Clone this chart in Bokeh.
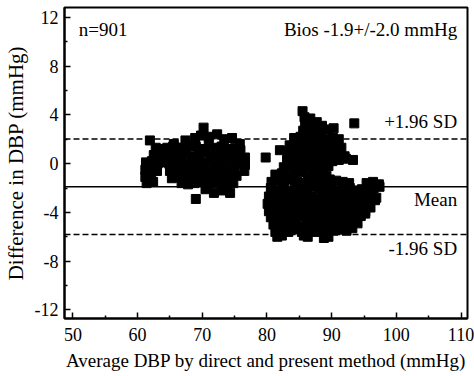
from bokeh.plotting import figure
from bokeh.models import Range1d, FixedTicker, Span, Label
from bokeh.embed import file_html
from bokeh.resources import INLINE

# ---------------- data ----------------
# Cluster 1 (lower pressures): average DBP (mmHg) and difference (mmHg)
avg_low = [
    61.9, 65.6, 66.6, 67.4, 68.9, 69.8, 70.2, 71.0, 72.3, 73.4, 74.6, 75.8,
    62.8, 63.7, 64.6, 65.5, 66.5, 67.2, 68.0, 69.0, 70.0, 71.0, 72.0, 73.0, 74.0, 75.1, 75.9,
    62.5, 63.5, 64.5, 65.5, 66.4, 67.5, 68.5, 69.5, 70.5, 71.5, 72.5, 73.5, 74.5, 75.5, 76.6,
    61.3, 62.2, 63.1, 64.0, 64.9, 65.8, 66.7, 67.6, 68.5, 69.4, 70.3, 71.3, 72.3, 73.3, 74.3, 75.3, 76.6,
    61.2, 62.1, 63.0, 65.0, 66.0, 67.0, 68.0, 69.0, 70.0, 71.0, 72.0, 73.0, 74.0, 75.0, 76.5,
    61.2, 62.1, 65.3, 66.4, 67.4, 68.4, 69.4, 70.4, 71.4, 72.4, 73.4, 74.4, 75.3,
    61.4, 62.4, 66.8, 67.8, 68.8, 69.8, 70.8, 71.8, 72.8, 73.8, 74.8,
    69.0, 71.8, 74.3, 70.5, 73.0,
]
diff_low = [
    1.9, 1.6, 1.3, 1.9, 2.1, 2.3, 2.95, 2.2, 2.4, 2.0, 2.1, 1.6,
    1.3, 1.2, 1.3, 1.4, 1.3, 1.1, 1.5, 1.4, 1.2, 1.5, 1.3, 1.4, 1.2, 1.3, 1.1,
    0.7, 0.8, 0.6, 0.7, 0.7, 0.8, 0.6, 0.7, 0.9, 0.6, 0.7, 0.8, 0.6, 0.7, 0.5,
    0.1, 0.2, 0.0, 0.1, 0.0, 0.2, 0.1, 0.0, 0.2, 0.1, 0.1, 0.2, 0.0, 0.1, 0.2, 0.0, -0.1,
    -0.5, -0.4, -0.6, -0.6, -0.5, -0.4, -0.6, -0.5, -0.4, -0.6, -0.5, -0.4, -0.6, -0.5, -0.6,
    -1.1, -1.0, -1.2, -1.1, -1.0, -1.2, -1.1, -1.0, -1.2, -1.1, -1.0, -1.2, -1.0,
    -1.6, -1.5, -1.6, -1.7, -1.6, -1.5, -1.7, -1.6, -1.5, -1.7, -1.6,
    -2.9, -2.4, -2.4, -2.1, -2.2,
]

# Cluster 2 (higher pressures)
avg_high = [
    # above the mean line
    85.5, 93.5, 82.0, 79.8,
    85.8, 86.7,
    85.9, 86.8, 87.7, 88.5,
    85.6, 86.6, 87.5, 88.4, 89.4, 90.3,
    84.2, 85.2, 86.2, 87.2, 88.2, 89.2, 90.2, 91.1,
    83.5, 84.5, 85.5, 86.5, 87.5, 88.5, 89.5, 90.5, 91.5,
    83.3, 84.3, 85.3, 86.3, 87.3, 88.3, 89.3, 90.3, 91.3, 92.0,
    83.1, 84.1, 85.1, 86.1, 87.1, 88.1, 89.1, 90.1, 91.1, 92.2, 93.3,
    82.6, 83.6, 84.6, 85.6, 86.6, 87.6, 88.6, 89.5,
    81.3, 82.3, 83.3, 84.3, 85.3, 86.3, 87.3, 88.3, 89.2,
    80.7, 81.7, 82.7, 83.7, 84.7, 85.7, 86.7, 87.7, 88.7, 89.7, 90.7, 91.7, 92.7, 95.4, 96.4, 97.3,
    # below the mean line
    80.6, 81.5, 82.4, 83.4, 84.3, 85.3, 86.2, 87.1, 88.1, 89.0, 90.0, 90.9, 91.8, 92.8, 93.7, 94.7, 95.6, 96.5, 97.4,
    80.3, 81.2, 82.1, 83.0, 84.0, 84.9, 85.8, 86.8, 87.7, 88.6, 89.6, 90.5, 91.4, 92.3, 93.3, 94.2, 95.1, 96.1, 96.9,
    80.1, 81.0, 82.0, 82.9, 83.8, 84.7, 85.7, 86.6, 87.5, 88.5, 89.4, 90.3, 91.3, 92.2, 93.1, 94.1, 95.0, 95.9, 96.7,
    80.3, 81.2, 82.2, 83.1, 84.0, 85.0, 85.9, 86.8, 87.8, 88.7, 89.6, 90.6, 91.5, 92.4, 93.4, 94.3, 95.2, 96.0,
    80.6, 81.5, 82.4, 83.4, 84.3, 85.2, 86.2, 87.1, 88.0, 89.0, 89.9, 90.8, 91.8, 92.7, 93.6, 94.5, 95.2,
    81.0, 81.9, 82.8, 83.8, 84.7, 85.6, 86.6, 87.5, 88.4, 89.4, 90.3, 91.2, 92.2, 93.1, 94.0,
    81.3, 82.3, 83.3, 84.4, 85.4, 86.4, 87.4, 88.4, 89.3, 90.3, 91.3, 92.3, 93.2,
    81.6, 82.3, 85.7, 86.3, 88.8, 89.5,
]
diff_high = [
    4.3, 3.3, 1.1, 0.5,
    3.8, 3.7,
    3.3, 3.2, 3.4, 3.1,
    2.7, 2.8, 2.6, 2.7, 2.8, 2.9,
    2.1, 2.2, 2.0, 2.1, 2.2, 2.0, 2.1, 2.0,
    1.5, 1.4, 1.6, 1.5, 1.4, 1.6, 1.5, 1.4, 1.3,
    0.9, 0.8, 1.0, 0.9, 0.8, 1.0, 0.9, 0.8, 0.7, 0.6,
    0.3, 0.2, 0.4, 0.3, 0.2, 0.4, 0.3, 0.2, 0.3, 0.4, 0.3,
    -0.3, -0.2, -0.4, -0.3, -0.2, -0.4, -0.3, -0.2,
    -0.9, -0.8, -1.0, -0.9, -0.7, -1.0, -0.9, -0.8, -1.0,
    -1.5, -1.4, -1.6, -1.3, -1.5, -1.6, -1.4, -1.5, -1.6, -1.3, -1.4, -1.5, -1.6, -1.6, -1.5, -1.7,
    -2.0, -2.2, -2.1, -2.3, -2.0, -2.1, -2.2, -1.9, -2.1, -2.3, -2.0, -2.2, -2.1, -2.0, -2.2, -2.1, -1.9, -2.0, -1.9,
    -2.7, -2.6, -2.8, -2.7, -2.5, -2.8, -2.6, -2.7, -2.9, -2.6, -2.7, -2.8, -2.6, -2.7, -2.5, -2.8, -2.7, -2.6, -2.8,
    -3.3, -3.2, -3.4, -3.3, -3.1, -3.4, -3.2, -3.3, -3.5, -3.2, -3.3, -3.4, -3.2, -3.3, -3.2, -3.4, -3.3, -3.1, -3.0,
    -3.9, -3.8, -4.0, -3.9, -3.7, -4.0, -3.8, -3.9, -4.1, -3.8, -3.9, -4.0, -3.8, -3.9, -3.8, -4.0, -3.9, -3.6,
    -4.4, -4.5, -4.6, -4.4, -4.5, -4.3, -4.6, -4.5, -4.4, -4.6, -4.5, -4.4, -4.6, -4.5, -4.4, -4.3, -4.1,
    -5.0, -5.1, -5.2, -5.0, -5.1, -5.2, -5.0, -5.1, -5.2, -5.1, -5.0, -5.2, -5.1, -5.0, -4.9,
    -5.6, -5.5, -5.6, -5.4, -5.6, -5.5, -5.6, -5.5, -5.7, -5.5, -5.4, -5.5, -5.3,
    -6.0, -5.9, -5.9, -6.0, -6.1, -6.0,
]

mean_diff = -1.9
sd_diff = 2.0
upper_loa = mean_diff + 1.96 * sd_diff
lower_loa = mean_diff - 1.96 * sd_diff

x_ticks = [50, 60, 70, 80, 90, 100, 110]
x_minor = [55, 65, 75, 85, 95, 105]
y_ticks = [-12, -8, -4, 0, 4, 8, 12]
y_tick_labels = ["-12", "-8", "-4", "0", "4", "8", "12"]
y_minor = [-10, -6, -2, 2, 6, 10]

FONT = "Liberation Serif"

# ---------------- figure ----------------
p = figure(width=474, height=376, output_backend="svg", toolbar_location=None,
           x_range=Range1d(48.7, 111.0), y_range=Range1d(-12.7, 12.8))
p.min_border_left = 58
p.min_border_right = 7
p.min_border_top = 7
p.min_border_bottom = 58
p.background_fill_color = "white"
p.border_fill_color = "white"
p.outline_line_color = "black"
p.outline_line_width = 2
p.grid.visible = False

for ax, ticks, minor in ((p.xaxis[0], x_ticks, x_minor), (p.yaxis[0], y_ticks, y_minor)):
    ax.ticker = FixedTicker(ticks=ticks, minor_ticks=minor)
    ax.major_tick_in = 6
    ax.major_tick_out = 0
    ax.minor_tick_in = 3
    ax.minor_tick_out = 0
    ax.axis_line_width = 2
    ax.major_tick_line_width = 1.5
    ax.minor_tick_line_width = 1.5
    ax.major_label_text_font = FONT
    ax.major_label_text_font_size = "18px"
    ax.major_label_text_color = "black"
    ax.axis_label_text_font = FONT
    ax.axis_label_text_font_style = "normal"
    ax.axis_label_text_color = "black"

p.yaxis.major_label_overrides = dict(zip(y_ticks, y_tick_labels))
p.xaxis.axis_label = "Average DBP by direct and present method (mmHg)"
p.yaxis.axis_label = "Difference in DBP (mmHg)"
p.xaxis.axis_label_text_font_size = "19px"
p.yaxis.axis_label_text_font_size = "21px"
p.xaxis.major_label_standoff = 9
p.yaxis.major_label_standoff = 6
p.xaxis.axis_label_standoff = 6
p.yaxis.axis_label_standoff = 4

p.scatter(avg_low, diff_low, marker="square", size=9, color="black")
p.scatter(avg_high, diff_high, marker="square", size=9, color="black")

p.add_layout(Span(location=upper_loa, dimension="width", line_color="black",
                  line_width=1.5, line_dash="6 3"))
p.add_layout(Span(location=lower_loa, dimension="width", line_color="black",
                  line_width=1.5, line_dash="6 3"))
p.add_layout(Span(location=mean_diff, dimension="width", line_color="black",
                  line_width=1.5))

def lab(x, y, t, align):
    p.add_layout(Label(x=x, y=y, text=t, text_font=FONT, text_font_size="19px",
                       text_color="black", text_align=align, text_baseline="middle"))

lab(50.9, 11.0, "n=901", "left")
lab(109.4, 11.0, "Bios -1.9+/-2.0 mmHg", "right")
lab(109.4, 3.45, "+1.96 SD", "right")
lab(109.4, -2.95, "Mean", "right")
lab(109.4, -6.97, "-1.96 SD", "right")

open("out.html", "w").write(file_html(p, INLINE))
